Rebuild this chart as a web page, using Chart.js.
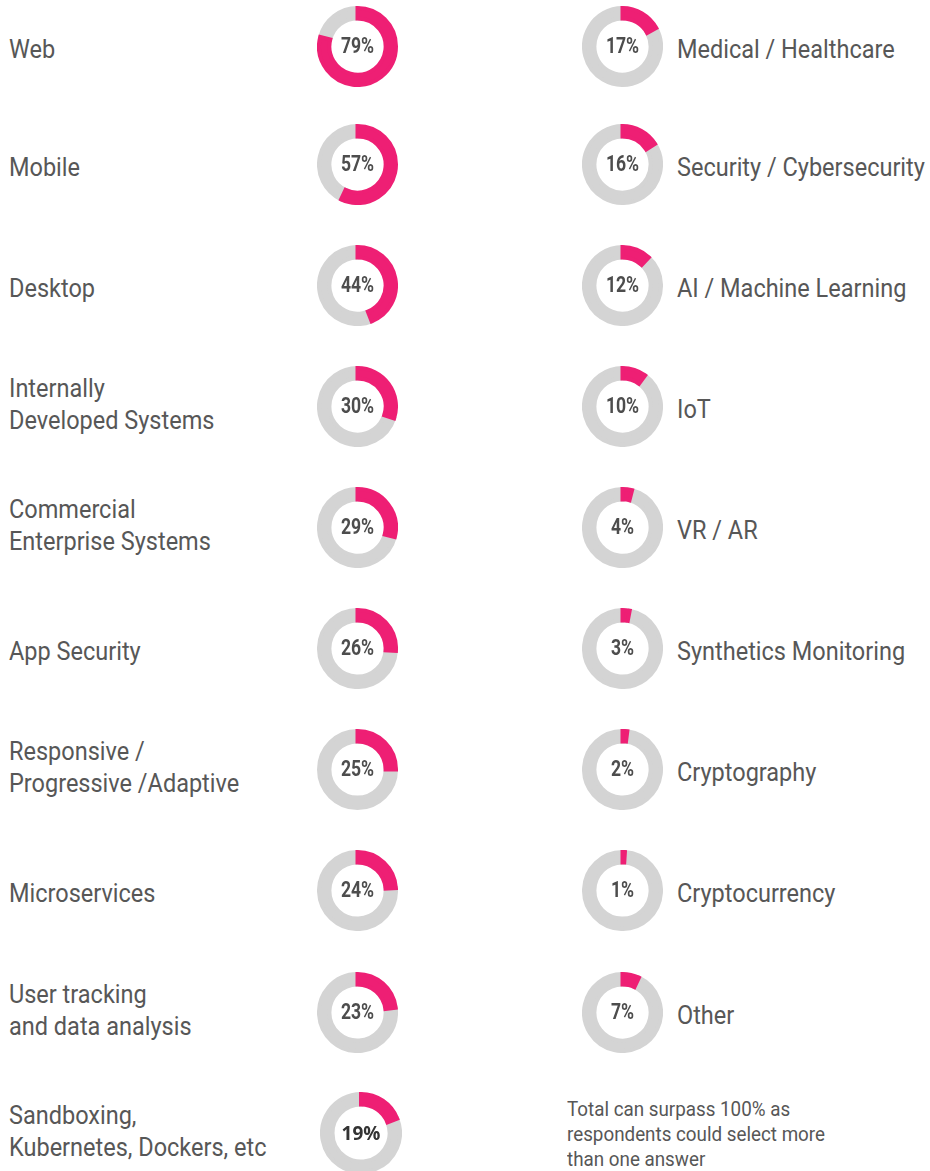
<!DOCTYPE html>
<html>
<head>
<meta charset="utf-8">
<script src="https://cdn.jsdelivr.net/npm/chart.js@4"></script>
<style>
  body { margin: 0; background: #fff; }
  #wrap { position: relative; width: 930px; height: 1171px; overflow: hidden; font-family: Roboto, sans-serif; color: #575757; }
  .lbl { position: absolute; font-size: 25px; line-height: 32px; transform-origin: 0 50%; transform: translateY(-50%) scaleX(0.94); white-space: nowrap; }
  .donut { position: absolute; }
  .note { position: absolute; left: 567px; top: 1097px; font-size: 20px; line-height: 25px; color: #575757;
          transform-origin: 0 0; transform: scaleX(0.94); white-space: nowrap; }
</style>
</head>
<body>
<div id="wrap"></div>
<script>
const leftLabels = ['Web', 'Mobile', 'Desktop', 'Internally\nDeveloped Systems', 'Commercial\nEnterprise Systems',
  'App Security', 'Responsive /\nProgressive /Adaptive', 'Microservices', 'User tracking\nand data analysis',
  'Sandboxing,\nKubernetes, Dockers, etc'];
const leftValues = [79, 57, 44, 30, 29, 26, 25, 24, 23, 19];

const rightLabels = ['Medical / Healthcare', 'Security / Cybersecurity', 'AI / Machine Learning', 'IoT', 'VR / AR',
  'Synthetics Monitoring', 'Cryptography', 'Cryptocurrency', 'Other'];
const rightValues = [17, 16, 12, 10, 4, 3, 2, 1, 7];

const note = 'Total can surpass 100% as<br>respondents could select more<br>than one answer';

const PINK = '#ee1f74';
const GREY = '#d4d4d4';
const rowY = [46, 164, 285, 406, 527, 648, 769, 890, 1012, 1133];

const wrap = document.getElementById('wrap');

// percentage in the hole, slightly condensed
const centerText = {
  id: 'centerText',
  afterDraw(chart) {
    const o = chart.options.plugins.centerText;
    const { ctx, chartArea } = chart;
    ctx.save();
    ctx.translate((chartArea.left + chartArea.right) / 2, (chartArea.top + chartArea.bottom) / 2 + 1);
    ctx.scale(o.squeeze, 1);
    ctx.font = 'bold ' + o.size + 'px ' + o.family;
    ctx.fillStyle = o.color;
    ctx.textAlign = 'center';
    ctx.textBaseline = 'middle';
    ctx.fillText(o.text, 0, 0);
    ctx.restore();
  }
};

function donut(cx, cy, value, big) {
  const size = big ? 82 : 81;
  const c = document.createElement('canvas');
  c.width = size; c.height = size;
  c.className = 'donut';
  c.style.left = (cx - size / 2) + 'px';
  c.style.top = (cy - size / 2) + 'px';
  wrap.appendChild(c);
  // grey drawn first so the pink slice (and its stroke) sits on top
  new Chart(c, {
    type: 'doughnut',
    data: {
      labels: ['no', 'yes'],
      datasets: [{
        data: [100 - value, value],
        backgroundColor: [GREY, PINK],
        borderColor: [GREY, PINK],
        borderWidth: 4,
        borderJoinStyle: 'miter'
      }]
    },
    options: {
      responsive: false, animation: false, cutout: '73%',
      rotation: value * 3.6,
      layout: { padding: 0 },
      plugins: {
        legend: { display: false }, tooltip: { enabled: false },
        centerText: big
          ? { text: value + '%', size: 20, family: '"Open Sans", sans-serif', color: '#333', squeeze: 0.95 }
          : { text: value + '%', size: 22, family: 'Roboto, sans-serif', color: '#4d4d4d', squeeze: 0.8 }
      }
    },
    plugins: [centerText]
  });
}

function label(x, y, text) {
  const d = document.createElement('div');
  d.className = 'lbl';
  d.style.left = x + 'px';
  d.style.top = y + 'px';
  d.innerHTML = text.replace('\n', '<br>');
  wrap.appendChild(d);
}

leftLabels.forEach((t, i) => {
  const last = i === leftLabels.length - 1;
  label(9, rowY[i] + (t.includes('\n') ? -1.5 : 3.5), t);
  donut(last ? 361 : 357.5, rowY[i], leftValues[i], last);
});

rightLabels.forEach((t, i) => {
  label(677, rowY[i] + 3.5, t);
  donut(622.5, rowY[i], rightValues[i], false);
});

const n = document.createElement('div');
n.className = 'note';
n.innerHTML = note;
wrap.appendChild(n);
</script>
</body>
</html>
